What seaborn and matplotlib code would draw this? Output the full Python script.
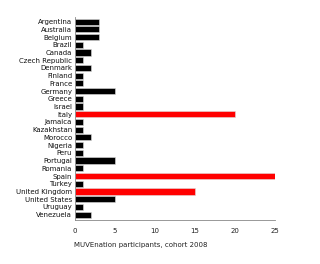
import matplotlib
matplotlib.use("Agg")
import matplotlib.pyplot as plt
import seaborn as sns
import pandas as pd

countries = ["Argentina", "Australia", "Belgium", "Brazil", "Canada", "Czech Republic",
             "Denmark", "Finland", "France", "Germany", "Greece", "Israel", "Italy",
             "Jamaica", "Kazakhstan", "Morocco", "Nigeria", "Peru", "Portugal", "Romania",
             "Spain", "Turkey", "United Kingdom", "United States", "Uruguay", "Venezuela"]
participants = [3, 3, 3, 1, 2, 1, 2, 1, 1, 5, 1, 1, 20, 1, 1, 2, 1, 1, 5, 1, 25, 1, 15, 5, 1, 2]
highlight = ["Italy", "Spain", "United Kingdom"]
x_ticks = [0, 5, 10, 15, 20, 25]
x_label = "MUVEnation participants, cohort 2008"

df = pd.DataFrame({"country": countries, "participants": participants})
palette = {c: ("#ff0000" if c in highlight else "#000000") for c in countries}

sns.set_style("white")
plt.rcParams['font.family'] = ['DejaVu Sans']

fig = plt.figure(figsize=(3.2, 2.64), dpi=100)
ax = fig.add_axes([75/320, 1 - 220/264, 200/320, 203/264])
sns.barplot(data=df, y="country", x="participants", hue="country", palette=palette,
            order=countries, legend=False, width=0.8, edgecolor="#dddddd",
            linewidth=0.4, saturation=1, ax=ax, orient="h")
ax.set_xlim(0, 25)
ax.set_ylim(len(countries) - 0.3, -0.6)
ax.set_xticks(x_ticks)
ax.set_xticklabels([str(t) for t in x_ticks], fontsize=5, color="#222222")
ax.tick_params(axis="x", direction="in", length=3, width=0.6, color="#888888", pad=6)
ax.tick_params(axis="y", length=0, pad=2, labelsize=5, labelcolor="#111111")
ax.set_ylabel("")
ax.set_xlabel("")
for s in ["top", "right"]:
    ax.spines[s].set_visible(False)
ax.spines["left"].set_color("#888888")
ax.spines["left"].set_linewidth(0.6)
ax.spines["bottom"].set_color("#888888")
ax.spines["bottom"].set_linewidth(0.6)
fig.text(74/320, 1 - 245/264, x_label, fontsize=5, color="#222222", va="center", ha="left")
fig.savefig("out.png", dpi=100)
